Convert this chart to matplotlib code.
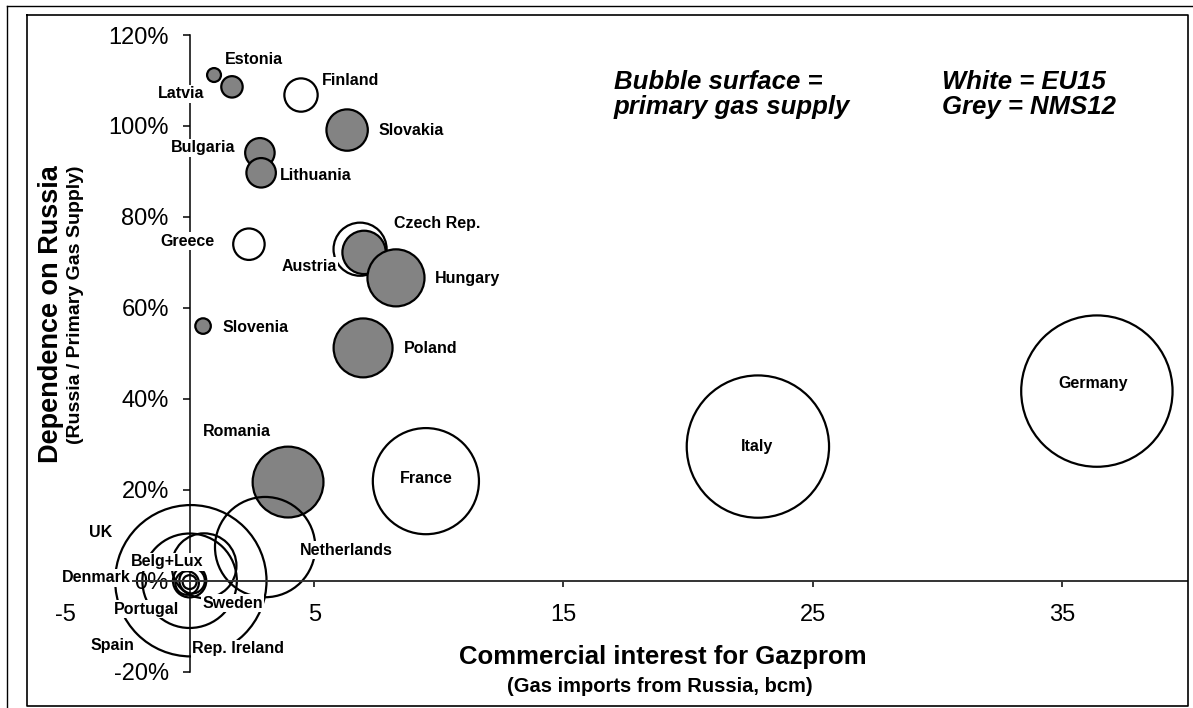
import matplotlib
matplotlib.use("Agg")
import matplotlib.pyplot as plt
from matplotlib.lines import Line2D

plt.rcParams['font.family'] = ['Liberation Sans', 'DejaVu Sans']
plt.rcParams['axes.unicode_minus'] = False

# ---- data ----
countries = ["Estonia", "Latvia", "Finland", "Slovakia", "Bulgaria", "Lithuania",
             "Greece", "Austria", "Czech Rep.", "Hungary", "Slovenia", "Poland",
             "Romania", "France", "Italy", "Germany", "UK", "Spain", "Netherlands",
             "Belg+Lux", "Denmark", "Portugal", "Rep. Ireland", "Sweden"]
# gas imports from Russia, bcm
imports = [0.98, 1.70, 4.47, 6.32, 2.82, 2.87,
           2.38, 6.84, 7.00, 8.28, 0.54, 6.96,
           3.95, 9.48, 22.8, 36.4, 0.05, 0.0, 3.03,
           0.58, 0.0, -0.1, 0.1, 0.0]
# dependence on Russia, %
dependence = [111.2, 108.6, 106.8, 99.1, 94.1, 89.7,
              74.0, 72.9, 72.2, 66.6, 56.0, 51.2,
              21.7, 21.9, 29.5, 41.7, 0.0, 0.0, 7.4,
              3.3, 0.0, -0.5, 0.0, -0.3]
# primary gas supply, bcm (bubble surface)
supply = [0.8, 1.9, 4.6, 7.1, 3.6, 3.6,
          4.1, 11.7, 7.8, 13.5, 1.0, 14.4,
          20.8, 46.7, 84.0, 95.0, 95.0, 37.0, 41.7,
          17.4, 4.6, 2.3, 2.7, 0.8]
nms12 = ["Estonia", "Latvia", "Slovakia", "Bulgaria", "Lithuania", "Czech Rep.",
         "Hungary", "Slovenia", "Poland", "Romania"]

xticks = [-5, 5, 15, 25, 35]
yticks = [-20, 0, 20, 40, 60, 80, 100, 120]

# label offsets from bubble centre, pixels
label_off = {
    "Estonia": (40, 16), "Latvia": (-51, -7), "Finland": (50, 15),
    "Slovakia": (64, 0), "Bulgaria": (-57, 5), "Lithuania": (55, -3),
    "Greece": (-61, 3), "Austria": (-51, -17), "Czech Rep.": (73, 29),
    "Hungary": (72, -1), "Slovenia": (53, -1), "Poland": (68, -1),
    "Romania": (-51, 51), "France": (0, 3), "Italy": (-1, 0),
    "Germany": (-4, 8), "UK": (-90, 48), "Spain": (-77, -65),
    "Netherlands": (81, -3), "Belg+Lux": (-37, 4), "Denmark": (-93, 3),
    "Portugal": (-41, -26), "Rep. Ireland": (46, -68), "Sweden": (43, -21),
}

W, H = 1193, 708
fig = plt.figure(figsize=(W / 100, H / 100), dpi=100)
ax = fig.add_axes([0.03357, 0.05127, 0.96107, 0.89929])
ax.set_xlim(-6, 40)
ax.set_ylim(-20, 120)

fc = ['#838383' if c in nms12 else 'none' for c in countries]
ax.scatter(imports, dependence, s=[125 * v for v in supply], facecolors=fc,
           edgecolors='black', linewidths=1.6, zorder=2, clip_on=False)

for c, xv, yv in zip(countries, imports, dependence):
    ax.annotate(c, (xv, yv), xytext=label_off[c], textcoords='offset pixels',
                ha='center', va='center', fontsize=11.5, fontweight='bold',
                zorder=4, annotation_clip=False,
                bbox=dict(facecolor='white', edgecolor='none', pad=1))

# axes crossing at the origin
for side in ['top', 'right']:
    ax.spines[side].set_visible(False)
ax.spines['left'].set_position(('data', 0))
ax.spines['bottom'].set_position(('data', 0))
ax.spines['left'].set_bounds(-20, 120)
ax.spines['bottom'].set_bounds(-5, 40)
ax.spines['left'].set_linewidth(1.1)
ax.spines['bottom'].set_linewidth(1.4)
ax.spines['bottom'].set_color('#333333')

ax.set_xticks(xticks)
ax.set_yticks(yticks)
ax.set_yticklabels([f"{v}%" for v in yticks])
ax.tick_params(axis='y', direction='out', length=5, width=1.1, pad=10, labelsize=17)
ax.tick_params(axis='x', direction='out', length=4.5, width=1.1, pad=12, labelsize=17)
ax.patch.set_visible(False)

# axis titles
fig.text(51 / W, 1 - 314 / H, "Dependence on Russia", rotation=90,
         ha='center', va='center', fontsize=19.5, fontweight='bold')
fig.text(76 / W, 1 - 305 / H, "(Russia / Primary Gas Supply)", rotation=90,
         ha='center', va='center', fontsize=14, fontweight='bold')
fig.text(663 / W, 1 - 657 / H, "Commercial interest for Gazprom",
         ha='center', va='center', fontsize=18.5, fontweight='bold')
fig.text(660 / W, 1 - 686 / H, "(Gas imports from Russia, bcm)",
         ha='center', va='center', fontsize=14.5, fontweight='bold')

# notes
fig.text(614 / W, 1 - 70 / H, "Bubble surface =\nprimary gas supply",
         ha='left', va='top', fontsize=18.5, fontweight='bold', style='italic',
         linespacing=1.05)
fig.text(942 / W, 1 - 70 / H, "White = EU15\nGrey = NMS12",
         ha='left', va='top', fontsize=18.5, fontweight='bold', style='italic',
         linespacing=1.05)

# frame around the picture
def fline(xs, ys, **kw):
    fig.add_artist(Line2D([x / W for x in xs], [1 - y / H for y in ys],
                          transform=fig.transFigure, color='black', **kw))

fline([7, W], [6, 6], lw=1)
fline([7, 7], [6, H], lw=1)
fline([27, 1188, 1188, 27, 27], [15, 15, 706, 706, 15], lw=1.2)

fig.savefig("out.png", dpi=100)
